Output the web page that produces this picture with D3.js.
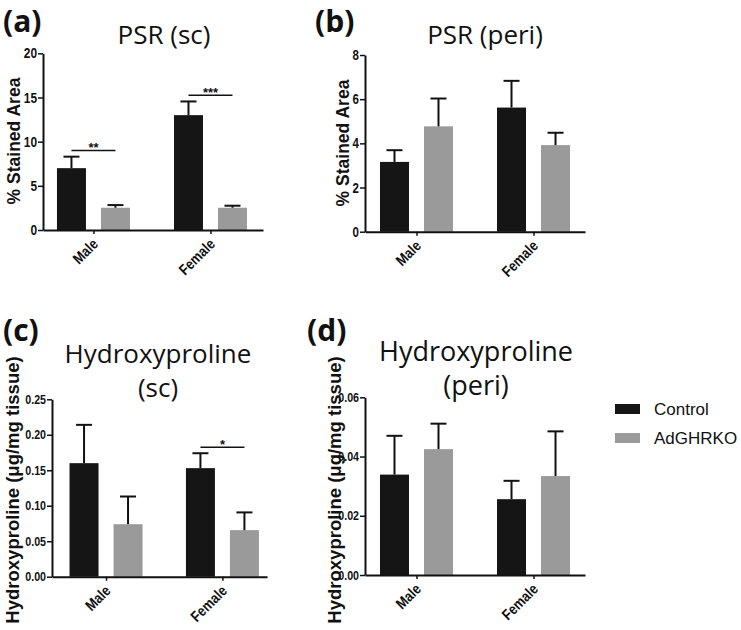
<!DOCTYPE html>
<html><head><meta charset="utf-8">
<script src="https://cdn.jsdelivr.net/npm/d3@7"></script>
<style>body{margin:0;background:#fff}</style>
</head><body>
<svg id="chart" width="741" height="630"></svg>
<script>
const groups = ["Male", "Female"];
const seriesNames = ["Control", "AdGHRKO"];
const seriesColors = ["#151515", "#9a9a9a"];

// (a) PSR (sc)
const psrScControl = [7.0, 13.0];
const psrScControlSem = [1.3, 1.55];
const psrScAdGHRKO = [2.52, 2.52];
const psrScAdGHRKOSem = [0.3, 0.23];
const psrScTicks = [0, 5, 10, 15, 20];
const psrScSig = [{group: "Male", y: 9.0, label: "**"}, {group: "Female", y: 15.25, label: "***"}];

// (b) PSR (peri)
const psrPeriControl = [3.16, 5.62];
const psrPeriControlSem = [0.53, 1.21];
const psrPeriAdGHRKO = [4.77, 3.92];
const psrPeriAdGHRKOSem = [1.26, 0.56];
const psrPeriTicks = [0, 2, 4, 6, 8];

// (c) Hydroxyproline (sc)
const hypScControl = [0.160, 0.153];
const hypScControlSem = [0.054, 0.021];
const hypScAdGHRKO = [0.074, 0.0656];
const hypScAdGHRKOSem = [0.039, 0.025];
const hypScTicks = [0, 0.05, 0.10, 0.15, 0.20, 0.25];
const hypScSig = [{group: "Female", y: 0.1826, label: "*"}];

// (d) Hydroxyproline (peri)
const hypPeriControl = [0.0339, 0.0256];
const hypPeriControlSem = [0.0131, 0.0062];
const hypPeriAdGHRKO = [0.0425, 0.0334];
const hypPeriAdGHRKOSem = [0.0086, 0.0151];
const hypPeriTicks = [0, 0.02, 0.04, 0.06];

const svg = d3.select("#chart");
const SANS = "'Liberation Sans',Arial,sans-serif";
const TITLE = "'Open Sans','Noto Sans',sans-serif";

function condense(sel, k) {
  sel.each(function () {
    const w = this.getComputedTextLength();
    d3.select(this).attr("textLength", w * k).attr("lengthAdjust", "spacingAndGlyphs");
  });
}

const panels = [
  {tag: "(a)", tagX: 3, tagY: 32, title: ["PSR (sc)"], titleX: 164, titleY: 44, titleSize: 26,
   yLabel: "% Stained Area", yLabelX: 14, yLabelY: 141, yLabelSize: 17.5,
   means: [psrScControl, psrScAdGHRKO], sems: [psrScControlSem, psrScAdGHRKOSem],
   ticks: psrScTicks, fmt: d3.format("d"), sig: psrScSig,
   x0: 43, x1: 263, y0: 230, y1: 53.3, pad: 0.44, align: 0.49, tickFont: 14.5},
  {tag: "(b)", tagX: 315, tagY: 32, title: ["PSR (peri)"], titleX: 485, titleY: 44, titleSize: 26,
   yLabel: "% Stained Area", yLabelX: 343, yLabelY: 143, yLabelSize: 17.5,
   means: [psrPeriControl, psrPeriAdGHRKO], sems: [psrPeriControlSem, psrPeriAdGHRKOSem],
   ticks: psrPeriTicks, fmt: d3.format("d"), sig: [],
   x0: 365, x1: 585, y0: 231.7, y1: 55, pad: 0.44, align: 0.5, tickFont: 14},
  {tag: "(c)", tagX: 3, tagY: 341, title: ["Hydroxyproline", "(sc)"], titleX: 158, titleY: 363, titleSize: 26,
   yLabel: "Hydroxyproline (\u03bcg/mg tissue)", yLabelX: 12, yLabelY: 490, yLabelSize: 18.5,
   means: [hypScControl, hypScAdGHRKO], sems: [hypScControlSem, hypScAdGHRKOSem],
   ticks: hypScTicks, fmt: d3.format(".2f"), sig: hypScSig,
   x0: 52, x1: 267, y0: 576.7, y1: 399.3, pad: 0.4236, align: 0.548, tickFont: 13},
  {tag: "(d)", tagX: 307, tagY: 341, title: ["Hydroxyproline", "(peri)"], titleX: 476, titleY: 361, titleSize: 27,
   yLabel: "Hydroxyproline (\u03bcg/mg tissue)", yLabelX: 334, yLabelY: 490, yLabelSize: 18.5,
   means: [hypPeriControl, hypPeriAdGHRKO], sems: [hypPeriControlSem, hypPeriAdGHRKOSem],
   ticks: hypPeriTicks, fmt: d3.format(".2f"), sig: [],
   x0: 365, x1: 585, y0: 575, y1: 397.3, pad: 0.44, align: 0.5, tickFont: 13}
];

panels.forEach(p => {
  const g = svg.append("g");
  const y = d3.scaleLinear().domain([0, d3.max(p.ticks)]).range([p.y0, p.y1]);
  const x = d3.scalePoint().domain(groups).range([p.x0, p.x1]).padding(p.pad).align(p.align);
  const inner = d3.scaleBand().domain(seriesNames).range([-36.5, 36.5]).paddingInner(0.341);

  g.append("text").attr("x", p.tagX).attr("y", p.tagY)
    .attr("font-family", TITLE).attr("font-weight", 700).attr("font-size", 30)
    .attr("fill", "#111").text(p.tag);
  p.title.forEach((t, i) => {
    g.append("text").attr("x", p.titleX).attr("y", p.titleY + i * 34)
      .attr("text-anchor", "middle").attr("font-family", TITLE)
      .attr("font-size", p.titleSize).attr("fill", "#111").text(t);
  });
  g.append("text")
    .attr("transform", `translate(${p.yLabelX},${p.yLabelY}) rotate(-90)`)
    .attr("text-anchor", "middle").attr("dominant-baseline", "central")
    .attr("font-family", SANS).attr("font-weight", 700).attr("font-size", p.yLabelSize)
    .attr("fill", "#111").text(p.yLabel);

  const data = [];
  groups.forEach((grp, gi) => seriesNames.forEach((s, si) => {
    data.push({grp, s, si, v: p.means[si][gi], e: p.sems[si][gi]});
  }));
  const cx = d => x(d.grp) + inner(d.s) + inner.bandwidth() / 2;
  g.selectAll("rect.bar").data(data).join("rect").attr("class", "bar")
    .attr("x", d => x(d.grp) + inner(d.s))
    .attr("width", inner.bandwidth())
    .attr("y", d => y(d.v))
    .attr("height", d => y(0) - y(d.v))
    .attr("fill", d => seriesColors[d.si]);

  const eb = g.selectAll("g.err").data(data).join("g").attr("class", "err");
  eb.append("line")
    .attr("x1", cx).attr("x2", cx)
    .attr("y1", d => y(d.v)).attr("y2", d => y(d.v + d.e))
    .attr("stroke", "#111").attr("stroke-width", 2);
  eb.append("line")
    .attr("x1", d => cx(d) - 8).attr("x2", d => cx(d) + 8)
    .attr("y1", d => y(d.v + d.e)).attr("y2", d => y(d.v + d.e))
    .attr("stroke", "#111").attr("stroke-width", 2);

  p.sig.forEach(sg => {
    const xa = x(sg.group) + inner("Control") + inner.bandwidth() / 2;
    const xb = x(sg.group) + inner("AdGHRKO") + inner.bandwidth() / 2;
    g.append("line").attr("x1", xa).attr("x2", xb).attr("y1", y(sg.y)).attr("y2", y(sg.y))
      .attr("stroke", "#111").attr("stroke-width", 1.5);
    g.append("text").attr("x", (xa + xb) / 2).attr("y", y(sg.y) + 2)
      .attr("text-anchor", "middle").attr("font-family", SANS).attr("font-weight", 700)
      .attr("font-size", 13).attr("fill", "#111").text(sg.label);
  });

  const ya = g.append("g").attr("transform", `translate(${p.x0},0)`)
    .call(d3.axisLeft(y).tickValues(p.ticks).tickFormat(p.fmt).tickSize(5).tickSizeOuter(0).tickPadding(1));
  ya.select(".domain").attr("stroke", "#111").attr("stroke-width", 2);
  ya.selectAll(".tick line").attr("stroke", "#111").attr("stroke-width", 1.5);
  ya.selectAll(".tick text").attr("font-family", SANS).attr("font-weight", 700)
    .attr("font-size", p.tickFont).attr("fill", "#111").call(condense, 0.82);

  const xa = g.append("g").attr("transform", `translate(0,${p.y0})`)
    .call(d3.axisBottom(x).tickSize(4).tickSizeOuter(0));
  xa.select(".domain").attr("stroke", "#111").attr("stroke-width", 2);
  xa.selectAll(".tick line").attr("stroke", "#111").attr("stroke-width", 1.5);
  xa.selectAll(".tick text")
    .attr("font-family", SANS).attr("font-weight", 700).attr("font-size", 15).attr("fill", "#111")
    .attr("text-anchor", "end").attr("dy", null).attr("y", 0)
    .attr("transform", "translate(5,15) rotate(-45)")
    .call(condense, 0.85);
});

const legend = svg.append("g");
seriesNames.forEach((s, i) => {
  legend.append("rect").attr("x", 615).attr("y", 404 + i * 29).attr("width", 25).attr("height", 10)
    .attr("fill", seriesColors[i]);
  legend.append("text").attr("x", 654).attr("y", 415 + i * 29)
    .attr("font-family", SANS).attr("font-size", 17).attr("fill", "#111").text(s);
});
</script>
</body></html>
